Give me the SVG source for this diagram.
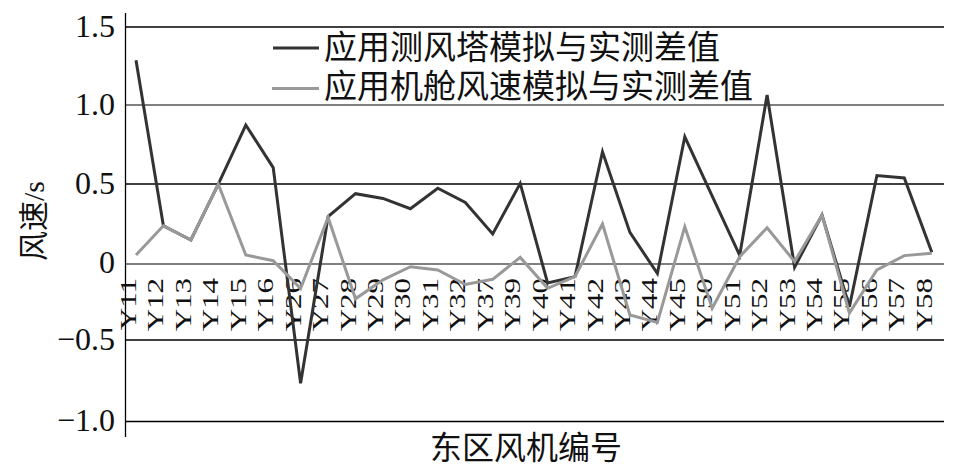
<svg xmlns="http://www.w3.org/2000/svg" width="964" height="474" viewBox="0 0 964 474">
<style>
text{font-family:"Liberation Serif","Noto Sans CJK SC",serif;fill:#111}
.tick{font-size:32px;text-anchor:end}
.cat{font-size:31px;text-anchor:end}
.leg{font-size:33px}
.ttl{font-size:32px}
.gk{stroke:#000;stroke-width:1.3;fill:none}
.gg{stroke:#808080;stroke-width:2.2;fill:none}
.s1{stroke:#333;stroke-width:3;fill:none;stroke-linejoin:miter}
.s2{stroke:#999;stroke-width:3;fill:none;stroke-linejoin:miter}
</style>
<rect width="964" height="474" fill="#fff"/>
<g id="grid">
<line class="gk" x1="125" y1="27" x2="944" y2="27"/>
<line class="gg" x1="125" y1="105" x2="944" y2="105"/>
<line class="gk" x1="125" y1="184" x2="944" y2="184"/>
<line class="gg" x1="125" y1="264" x2="944" y2="264"/>
<line class="gk" x1="125" y1="340" x2="944" y2="340"/>
<line class="gk" x1="125" y1="421.5" x2="944" y2="421.5"/>
<line class="gk" x1="125.5" y1="13" x2="125.5" y2="437"/>
</g>
<g id="y-ticks">
<text class="tick" x="115" y="37">1.5</text>
<text class="tick" x="115" y="115">1.0</text>
<text class="tick" x="115" y="194">0.5</text>
<text class="tick" x="115" y="273">0</text>
<text class="tick" x="115" y="350">−0.5</text>
<text class="tick" x="115" y="431">−1.0</text>
</g>
<g id="x-labels">
<text class="cat" transform="translate(136,278) rotate(-90) scale(1,0.75)">Y11</text>
<text class="cat" transform="translate(163.4,278) rotate(-90) scale(1,0.75)">Y12</text>
<text class="cat" transform="translate(190.9,278) rotate(-90) scale(1,0.75)">Y13</text>
<text class="cat" transform="translate(218.3,278) rotate(-90) scale(1,0.75)">Y14</text>
<text class="cat" transform="translate(245.8,278) rotate(-90) scale(1,0.75)">Y15</text>
<text class="cat" transform="translate(273.2,278) rotate(-90) scale(1,0.75)">Y16</text>
<text class="cat" transform="translate(300.6,278) rotate(-90) scale(1,0.75)">Y26</text>
<text class="cat" transform="translate(328.1,278) rotate(-90) scale(1,0.75)">Y27</text>
<text class="cat" transform="translate(355.5,278) rotate(-90) scale(1,0.75)">Y28</text>
<text class="cat" transform="translate(383,278) rotate(-90) scale(1,0.75)">Y29</text>
<text class="cat" transform="translate(410.4,278) rotate(-90) scale(1,0.75)">Y30</text>
<text class="cat" transform="translate(437.8,278) rotate(-90) scale(1,0.75)">Y31</text>
<text class="cat" transform="translate(465.3,278) rotate(-90) scale(1,0.75)">Y32</text>
<text class="cat" transform="translate(492.7,278) rotate(-90) scale(1,0.75)">Y37</text>
<text class="cat" transform="translate(520.2,278) rotate(-90) scale(1,0.75)">Y39</text>
<text class="cat" transform="translate(547.6,278) rotate(-90) scale(1,0.75)">Y40</text>
<text class="cat" transform="translate(575,278) rotate(-90) scale(1,0.75)">Y41</text>
<text class="cat" transform="translate(602.5,278) rotate(-90) scale(1,0.75)">Y42</text>
<text class="cat" transform="translate(629.9,278) rotate(-90) scale(1,0.75)">Y43</text>
<text class="cat" transform="translate(657.4,278) rotate(-90) scale(1,0.75)">Y44</text>
<text class="cat" transform="translate(684.8,278) rotate(-90) scale(1,0.75)">Y45</text>
<text class="cat" transform="translate(712.2,278) rotate(-90) scale(1,0.75)">Y50</text>
<text class="cat" transform="translate(739.7,278) rotate(-90) scale(1,0.75)">Y51</text>
<text class="cat" transform="translate(767.1,278) rotate(-90) scale(1,0.75)">Y52</text>
<text class="cat" transform="translate(794.6,278) rotate(-90) scale(1,0.75)">Y53</text>
<text class="cat" transform="translate(822,278) rotate(-90) scale(1,0.75)">Y54</text>
<text class="cat" transform="translate(849.4,278) rotate(-90) scale(1,0.75)">Y55</text>
<text class="cat" transform="translate(876.9,278) rotate(-90) scale(1,0.75)">Y56</text>
<text class="cat" transform="translate(904.3,278) rotate(-90) scale(1,0.75)">Y57</text>
<text class="cat" transform="translate(931.8,278) rotate(-90) scale(1,0.75)">Y58</text>
</g>
<g id="connectors">
<polyline id="series-tower" class="s1" points="136,60.2 163.4,225.8 190.9,240 218.3,184.2 245.8,125 273.2,167.6 300.6,383.3 328.1,216.6 355.5,193.7 383,198.4 410.4,208.7 437.8,188.2 465.3,202.4 492.7,234 520.2,183.4 547.6,283 575,276.6 602.5,151.8 629.9,232.4 657.4,273.5 684.8,136.8 712.2,196.1 739.7,255.3 767.1,94.9 794.6,267.2 822,215 849.4,306.7 876.9,175.5 904.3,177.9 931.8,252.2"/>
<polyline id="series-nacelle" class="s2" points="136,255 163.4,225.8 190.9,240 218.3,184.2 245.8,255 273.2,260.7 300.6,288.5 328.1,217.4 355.5,298.8 383,279.8 410.4,266.7 437.8,270 465.3,284.5 492.7,279.3 520.2,257.4 547.6,288.3 575,276.6 602.5,224 629.9,315 657.4,322.5 684.8,226.7 712.2,308.2 739.7,256.7 767.1,227.7 794.6,261.6 822,215 849.4,313 876.9,270 904.3,255.6 931.8,253.3"/>
</g>
<g id="legend">
<line class="s1" x1="273" y1="48" x2="319" y2="48"/>
<text class="leg" x="324" y="59">应用测风塔模拟与实测差值</text>
<line class="s2" x1="272" y1="88.5" x2="319" y2="88.5"/>
<text class="leg" x="324" y="98">应用机舱风速模拟与实测差值</text>
</g>
<g id="axis-titles">
<text class="ttl" x="430" y="459">东区风机编号</text>
<text class="ttl" style="font-size:30px" transform="translate(44,261) rotate(-90)">风速/s</text>
</g>
</svg>
